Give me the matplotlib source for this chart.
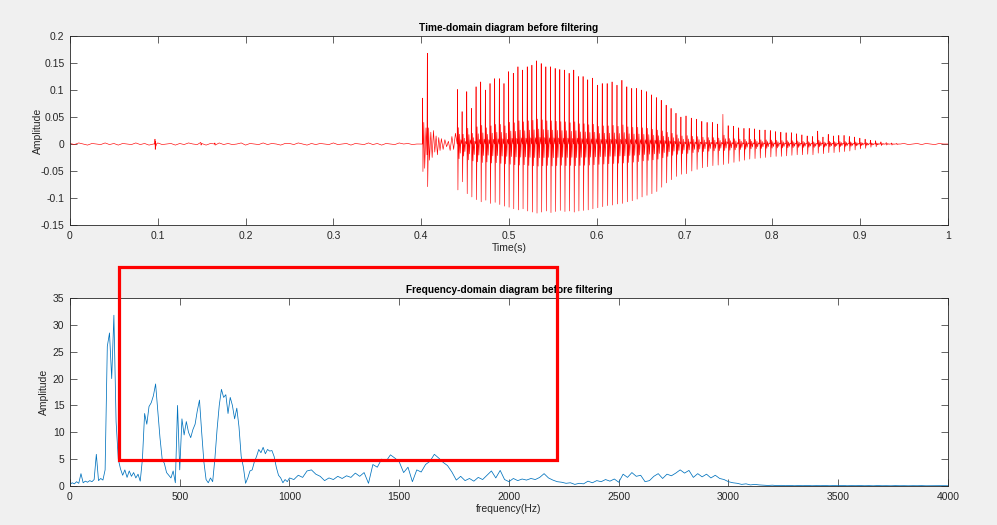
import numpy as np
import matplotlib
matplotlib.use("Agg")
import matplotlib.pyplot as plt
from matplotlib.patches import Rectangle

plt.rcParams['font.family'] = ['Liberation Sans', 'DejaVu Sans']

# ---------------- time-domain data ----------------
# quiet segment 0.000 .. 0.395 s, one value every 5 ms
quiet_amp = [0.001, -0.001, 0.002, 0.000, -0.002, 0.001, 0.000, -0.001, 0.002, -0.001,
             0.001, -0.002, 0.001, 0.000, -0.001, 0.002, -0.001, 0.001, -0.002, 0.000,
             0.002, -0.001, 0.000, 0.001, -0.002, 0.001, -0.001, 0.002, 0.000, -0.001,
             0.001, -0.002, 0.001, 0.000, 0.002, -0.001, 0.001, -0.001, 0.000, 0.002,
             -0.002, 0.001, 0.000, -0.001, 0.002, -0.001, 0.001, 0.000, -0.002, 0.001,
             0.001, -0.001, 0.002, 0.000, -0.002, 0.001, -0.001, 0.001, 0.000, -0.001,
             0.002, -0.001, 0.000, 0.001, -0.002, 0.001, 0.000, -0.001, 0.002, -0.001,
             0.001, -0.002, 0.001, 0.000, -0.001, 0.002, 0.000, 0.001, -0.001, 0.000]
# small clicks before the word
event_t = [0.0965, 0.0968, 0.0971, 0.0975, 0.0979, 0.0985, 0.1490, 0.1493, 0.1496, 0.1650, 0.1653]
event_a = [0.000, 0.009, -0.010, 0.005, -0.004, 0.000, 0.003, -0.002, 0.000, 0.002, -0.002]
# onset burst
burst_t = [0.4013, 0.4017, 0.4020, 0.4030, 0.4040, 0.4055, 0.4066, 0.4070, 0.4074, 0.4085,
           0.4095, 0.4110, 0.4125, 0.4140, 0.4155, 0.4170, 0.4185, 0.4200, 0.4215, 0.4230,
           0.4250, 0.4270, 0.4290, 0.4310, 0.4330, 0.4350, 0.4370, 0.4390]
burst_a = [0.000, 0.085, -0.051, 0.040, -0.045, 0.030, -0.020, 0.168, -0.079, 0.030,
           -0.030, 0.022, -0.025, 0.025, -0.015, 0.015, -0.020, 0.012, -0.012, 0.010,
           -0.010, 0.008, -0.005, 0.005, -0.012, 0.014, -0.010, 0.020]
# voiced part: one entry per glottal cycle
cycle_t = [0.4410, 0.4463, 0.4516, 0.4569, 0.4622, 0.4675, 0.4728, 0.4781, 0.4834, 0.4887,
           0.4940, 0.4993, 0.5046, 0.5099, 0.5152, 0.5205, 0.5258, 0.5311, 0.5364, 0.5417,
           0.5470, 0.5523, 0.5576, 0.5629, 0.5682, 0.5735, 0.5788, 0.5841, 0.5894, 0.5947,
           0.6003, 0.6059, 0.6115, 0.6171, 0.6227, 0.6283, 0.6339, 0.6395, 0.6451, 0.6507,
           0.6563, 0.6619, 0.6675, 0.6731, 0.6787, 0.6843, 0.6899, 0.6955,
           0.7013, 0.7073, 0.7133, 0.7193, 0.7253, 0.7313, 0.7373, 0.7433, 0.7493, 0.7553,
           0.7613, 0.7673, 0.7733, 0.7793, 0.7853, 0.7913, 0.7973, 0.8033, 0.8093, 0.8153,
           0.8213, 0.8273, 0.8333, 0.8393, 0.8453, 0.8513, 0.8573, 0.8633, 0.8693, 0.8753,
           0.8813, 0.8873, 0.8933, 0.8993, 0.9053, 0.9113, 0.9173, 0.9233, 0.9293, 0.9353,
           0.9413]
cycle_hi = [0.101, 0.060, 0.097, 0.066, 0.106, 0.115, 0.100, 0.112, 0.121, 0.121,
            0.112, 0.134, 0.131, 0.143, 0.137, 0.143, 0.146, 0.154, 0.149, 0.143,
            0.143, 0.140, 0.138, 0.137, 0.131, 0.137, 0.125, 0.125, 0.119, 0.122,
            0.109, 0.112, 0.112, 0.115, 0.109, 0.118, 0.106, 0.103, 0.103, 0.100,
            0.097, 0.091, 0.086, 0.081, 0.072, 0.066, 0.057, 0.050,
            0.052, 0.048, 0.046, 0.042, 0.040, 0.040, 0.037, 0.055, 0.034, 0.033,
            0.030, 0.029, 0.029, 0.028, 0.026, 0.026, 0.025, 0.023, 0.022, 0.021,
            0.021, 0.019, 0.017, 0.015, 0.014, 0.024, 0.013, 0.018, 0.015, 0.016,
            0.016, 0.014, 0.013, 0.011, 0.009, 0.007, 0.006, 0.004, 0.003, 0.002,
            0.001]
cycle_lo = [-0.085, -0.070, -0.092, -0.098, -0.103, -0.107, -0.104, -0.110, -0.108, -0.112,
            -0.115, -0.117, -0.120, -0.122, -0.120, -0.124, -0.126, -0.128, -0.126, -0.124,
            -0.127, -0.125, -0.123, -0.125, -0.124, -0.126, -0.124, -0.123, -0.122, -0.120,
            -0.118, -0.116, -0.114, -0.113, -0.111, -0.110, -0.107, -0.105, -0.102, -0.098,
            -0.095, -0.092, -0.088, -0.080, -0.072, -0.066, -0.060, -0.056,
            -0.055, -0.050, -0.047, -0.044, -0.042, -0.040, -0.039, -0.038, -0.036, -0.034,
            -0.032, -0.030, -0.028, -0.027, -0.026, -0.025, -0.024, -0.023, -0.023, -0.022,
            -0.021, -0.020, -0.020, -0.019, -0.020, -0.017, -0.018, -0.016, -0.016, -0.015,
            -0.014, -0.013, -0.011, -0.009, -0.008, -0.006, -0.005, -0.003, -0.002, -0.002,
            -0.001]
# shape of one cycle (fraction of period, weight of peak / of trough)
ring_phase = [0.00, 0.06, 0.16, 0.28, 0.40, 0.53, 0.66, 0.80]
ring_hi = [0.0, 1.0, 0.0, 0.30, 0.0, 0.18, 0.0, 0.08]
ring_lo = [0.0, 0.0, 1.0, 0.0, 0.32, 0.0, 0.20, 0.0]
# tail 0.950 .. 1.000 s, every 5 ms
tail_amp = [0.001, -0.001, 0.000, 0.001, -0.001, 0.001, 0.000, -0.001, 0.001, 0.000, 0.000]

# ---------------- frequency-domain data ----------------
# 0 .. 1000 Hz every 10 Hz
spec_lo = [0.3, 0.6, 0.4, 0.8, 0.5, 2.3, 0.6, 0.9, 0.7, 1.0,
           0.8, 1.2, 5.9, 1.0, 1.4, 1.1, 3.0, 26.0, 28.5, 20.0,
           31.8, 12.0, 5.0, 3.2, 2.0, 3.0, 1.6, 2.8, 1.8, 2.5,
           1.5, 2.2, 0.9, 5.0, 13.5, 11.5, 14.8, 15.5, 16.8, 19.0,
           14.0, 9.0, 5.0, 4.2, 2.5, 2.0, 1.5, 2.8, 0.6, 15.0,
           3.0, 12.5, 9.5, 12.0, 10.0, 9.0, 10.5, 11.5, 14.0, 16.0,
           10.0, 4.5, 1.2, 0.6, 1.5, 0.8, 5.0, 10.5, 15.0, 18.0,
           16.5, 17.0, 13.5, 16.5, 15.0, 12.5, 14.5, 11.0, 5.5, 3.5,
           0.5, 1.5, 2.8, 3.0, 4.5, 5.5, 6.8, 6.2, 7.2, 6.0,
           6.8, 6.5, 6.6, 5.5, 3.5, 2.0, 1.5, 0.6, 1.2, 0.8,
           1.5]
# 1020 .. 4000 Hz every 20 Hz
spec_hi = [1.2, 2.0, 1.6, 2.8, 3.0, 2.2, 1.8, 1.0, 1.5, 1.2,
           1.8, 1.4, 1.9, 1.6, 2.4, 1.8, 2.5, 0.5, 4.0, 3.5,
           5.0, 4.6, 5.8, 5.2, 4.5, 2.5, 3.5, 0.8, 3.0, 2.6,
           4.0, 4.6, 5.9, 5.2, 4.4, 3.8, 2.6, 1.1, 1.8, 1.0,
           1.4, 0.9, 1.6, 1.2, 2.0, 2.8, 1.5, 2.9, 1.2, 0.8,
           1.4, 1.0, 1.3, 1.1, 1.4, 1.2, 1.6, 2.3, 1.5, 1.1,
           0.8, 0.7, 0.5, 0.6, 0.3, 0.5, 0.4, 0.9, 0.6, 1.0,
           0.8, 1.2, 0.9, 1.3, 0.7, 2.2, 1.6, 2.5, 1.8, 2.0,
           0.8, 1.0, 1.8, 2.3, 1.4, 2.2, 1.9, 2.4, 3.0, 2.4,
           2.9, 1.6, 2.3, 1.7, 2.2, 1.5, 2.0, 1.4, 1.2, 0.8,
           0.6, 0.5, 0.3, 0.4, 0.2, 0.3, 0.2, 0.15, 0.1, 0.15,
           0.08, 0.12, 0.06, 0.1, 0.05, 0.08, 0.06, 0.1, 0.05, 0.07,
           0.06, 0.09, 0.05, 0.08, 0.06, 0.1, 0.05, 0.07, 0.06, 0.08,
           0.05, 0.07, 0.04, 0.08, 0.05, 0.06, 0.04, 0.07, 0.05, 0.06,
           0.04, 0.06, 0.05, 0.07, 0.04, 0.05, 0.04, 0.06, 0.05, 0.05]

time_ticks = [0, 0.1, 0.2, 0.3, 0.4, 0.5, 0.6, 0.7, 0.8, 0.9, 1]
time_ticklabels = ['0', '0.1', '0.2', '0.3', '0.4', '0.5', '0.6', '0.7', '0.8', '0.9', '1']
amp_ticks = [-0.15, -0.1, -0.05, 0, 0.05, 0.1, 0.15, 0.2]
amp_ticklabels = ['-0.15', '-0.1', '-0.05', '0', '0.05', '0.1', '0.15', '0.2']
freq_ticks = [0, 500, 1000, 1500, 2000, 2500, 3000, 3500, 4000]
spec_ticks = [0, 5, 10, 15, 20, 25, 30, 35]

# ---------------- assemble the waveform vertices ----------------
tt, aa = [], []
tt += list(np.arange(len(quiet_amp)) * 0.005)
aa += quiet_amp
tt += event_t
aa += event_a
tt += burst_t
aa += burst_a
ct = np.array(cycle_t)
per = np.diff(np.append(ct, ct[-1] + (ct[-1] - ct[-2])))
for t0, p, hi, lo in zip(ct, per, cycle_hi, cycle_lo):
    for ph, wh, wl in zip(ring_phase, ring_hi, ring_lo):
        tt.append(t0 + ph * p)
        aa.append(wh * hi + wl * lo)
tt += list(0.95 + np.arange(len(tail_amp)) * 0.005)
aa += tail_amp
order = np.argsort(tt, kind='stable')
wave_t = np.array(tt)[order]
wave_a = np.array(aa)[order]

freq = np.concatenate([np.arange(len(spec_lo)) * 10.0, 1020.0 + np.arange(len(spec_hi)) * 20.0])
spec = np.concatenate([spec_lo, spec_hi])

# ---------------- figure ----------------
fig = plt.figure(figsize=(9.97, 5.25), dpi=100, facecolor='#f0f0f0')
ax1 = fig.add_axes([0.0702, 0.5714, 0.8806, 0.360])
ax2 = fig.add_axes([0.0702, 0.0743, 0.8806, 0.358])

dark = '#262626'


def style(ax):
    ax.set_facecolor('white')
    for s in ax.spines.values():
        s.set_color(dark)
        s.set_linewidth(0.6)
    ax.tick_params(direction='in', top=True, right=True, length=5, width=0.5,
                   colors=dark, labelsize=7.5, pad=4)


ax1.plot(wave_t, wave_a, color='#ff0000', lw=0.45)
ax1.set_xlim(0, 1)
ax1.set_ylim(-0.15, 0.2)
ax1.set_xticks(time_ticks)
ax1.set_xticklabels(time_ticklabels)
ax1.set_yticks(amp_ticks)
ax1.set_yticklabels(amp_ticklabels)
style(ax1)
ax1.set_title('Time-domain diagram before filtering', fontsize=7.3, fontweight='bold',
              pad=3.5, color='black')
ax1.set_xlabel('Time(s)', fontsize=7.5, labelpad=2, color=dark)
ax1.set_ylabel('Amplitude', fontsize=7.5, labelpad=-1.5, color=dark)

ax2.plot(freq, spec, color='#0072bd', lw=0.55)
ax2.set_xlim(0, 4000)
ax2.set_ylim(0, 35)
ax2.set_xticks(freq_ticks)
ax2.set_yticks(spec_ticks)
style(ax2)
ax2.set_title('Frequency-domain diagram before filtering', fontsize=7.3, fontweight='bold',
              pad=3.5, color='black')
ax2.set_xlabel('frequency(Hz)', fontsize=7.5, labelpad=2, color=dark)
ax2.set_ylabel('Amplitude', fontsize=7.5, labelpad=2.5, color=dark)

# red highlight box (figure coordinates)
fig.patches.append(Rectangle((0.1194, 0.1238), 0.4393, 0.3676, transform=fig.transFigure,
                             fill=False, edgecolor='#ff0000', linewidth=2.3, zorder=10))

fig.savefig('out.png', dpi=100, facecolor=fig.get_facecolor())
